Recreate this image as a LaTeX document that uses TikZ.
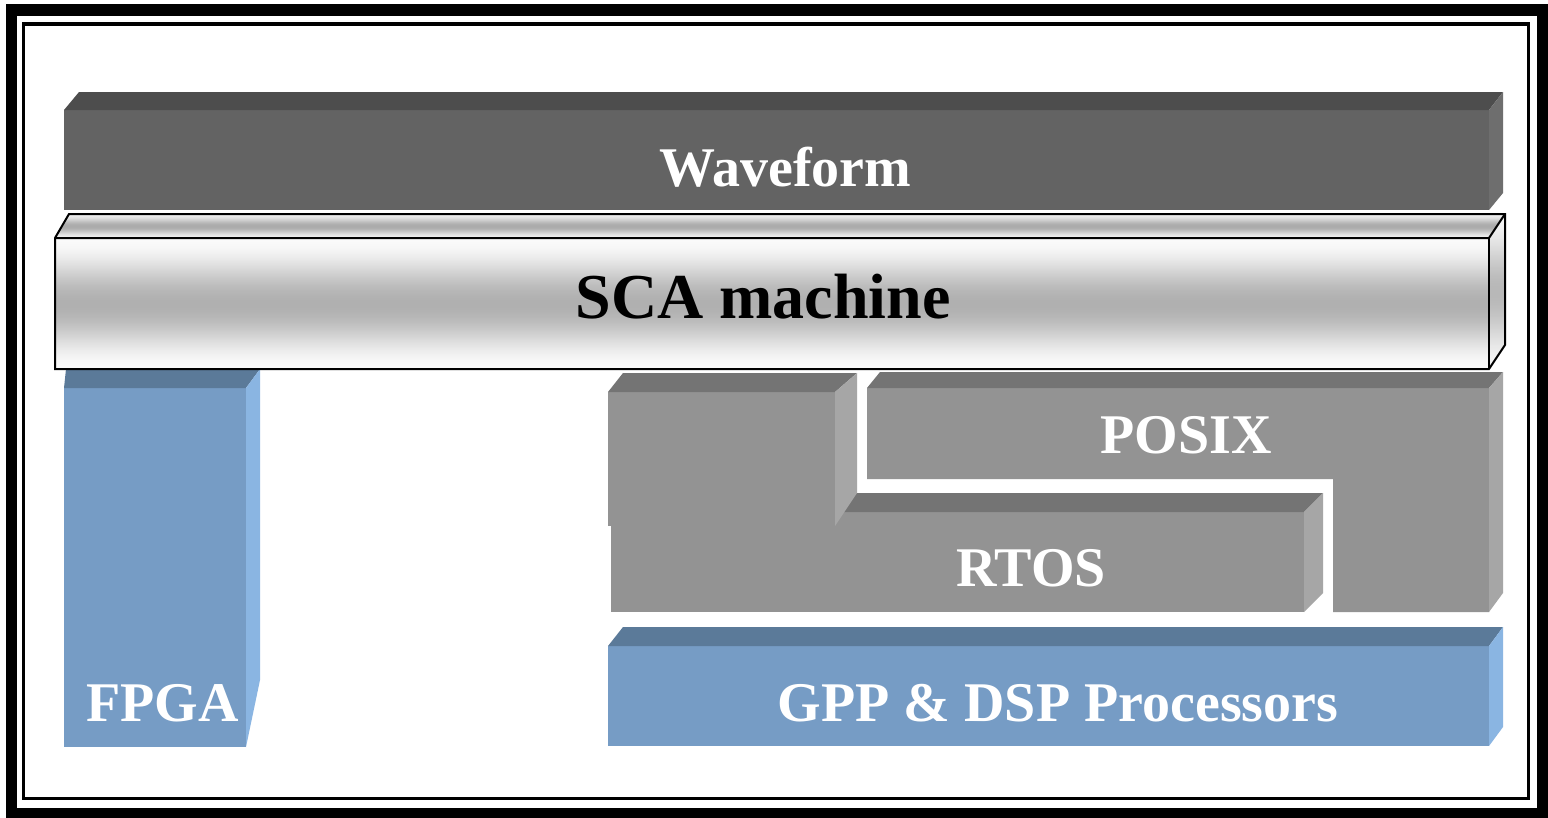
\documentclass[tikz,border=0pt]{standalone}
\usepackage{fontspec}
\setmainfont{Liberation Serif}
\definecolor{wavefront}{HTML}{636363}
\definecolor{wavetop}{HTML}{4D4D4D}
\definecolor{waveside}{HTML}{6E6E6E}
\definecolor{bluefront}{HTML}{769CC5}
\definecolor{bluetop}{HTML}{5B7A99}
\definecolor{blueside}{HTML}{8AB5E2}
\definecolor{grayfront}{HTML}{939393}
\definecolor{graytop}{HTML}{747474}
\definecolor{grayside}{HTML}{A6A6A6}
\tikzset{
  lbl/.style={inner sep=0pt, anchor=base, font=\bfseries\fontsize{56}{60}\selectfont, text=white},
  scalbl/.style={inner sep=0pt, anchor=base, font=\bfseries\fontsize{64}{70}\selectfont, text=black},
  outline/.style={line width=2pt, line join=miter},
}
% vertical gradient strips: #1 y0, #2 y1, #3 x0, #4 x1, #5 light %, #6 dark %
\newcommand\vgradstrips[6]{%
  \foreach \yy in {#1,...,#2} {%
    \pgfmathsetmacro\tt{(\yy-#1)/(#2-#1)}%
    \pgfmathsetmacro\gg{#5+(#6-#5)*(1-cos(360*\tt))/2}%
    \fill[black!\gg] (#3,\yy) rectangle (#4,\yy+1.3);
  }%
}
\begin{document}
\begin{tikzpicture}[x=1pt,y=-1pt]
\useasboundingbox (0,0) rectangle (1548,817);
\fill[white] (0,0) rectangle (1548,817);
% frames
\draw[line width=11.5pt] (11.5,10) rectangle (1542.5,813.5);
\draw[line width=3.5pt] (23.5,24) rectangle (1528.5,798.5);
% Waveform
\fill[wavefront] (64,110) rectangle (1489,210);
\fill[wavetop] (64,110) -- (79,92) -- (1503,92) -- (1489,110) -- cycle;
\fill[waveside] (1489,110) -- (1503,92) -- (1503,193) -- (1489,210) -- cycle;
% FPGA
\fill[bluefront] (64,388) rectangle (246,747);
\fill[bluetop] (64,388) -- (66,369) -- (260,369) -- (246,388) -- cycle;
\fill[blueside] (246,388) -- (260,369) -- (260,680) -- (246,747) -- cycle;
% SCA machine
\begin{scope}
  \clip (55,238) -- (69,214) -- (1505,214) -- (1489,238) -- cycle;
  \vgradstrips{214}{238}{50}{1510}{6}{33}
\end{scope}
\begin{scope}
  \clip (1489,238) -- (1505,214) -- (1505,345) -- (1489,369) -- cycle;
  \vgradstrips{214}{369}{1485}{1510}{4}{28}
\end{scope}
\begin{scope}
  \clip (55,238) rectangle (1489,369);
  \vgradstrips{238}{369}{55}{1489}{2}{31}
\end{scope}
\draw[outline] (55,238) -- (69,214) -- (1505,214) -- (1505,345) -- (1489,369) -- (55,369) -- cycle;
\draw[outline] (55,238) -- (1489,238) -- (1505,214);
\draw[outline] (1489,238) -- (1489,369);
% RTOS
\fill[grayfront] (611,512) rectangle (1304,612);
\fill[graytop] (611,512) -- (630,493) -- (1323,493) -- (1304,512) -- cycle;
\fill[grayside] (1304,512) -- (1323,493) -- (1323,593) -- (1304,612) -- cycle;
% left gray box
\fill[grayfront] (608,392) rectangle (835,526);
\fill[graytop] (608,392) -- (623,373) -- (857,373) -- (835,392) -- cycle;
\fill[grayside] (835,392) -- (857,373) -- (857,493) -- (835,526) -- cycle;
% POSIX
\fill[grayfront] (867,388) -- (1489,388) -- (1489,612) -- (1333,612) -- (1333,479) -- (867,479) -- cycle;
\fill[graytop] (867,388) -- (880,372) -- (1503,372) -- (1489,388) -- cycle;
\fill[grayside] (1489,388) -- (1503,372) -- (1503,593) -- (1489,612) -- cycle;
% GPP & DSP
\fill[bluefront] (608,646) rectangle (1489,746);
\fill[bluetop] (608,646) -- (623,627) -- (1503,627) -- (1489,646) -- cycle;
\fill[blueside] (1489,646) -- (1503,627) -- (1503,727) -- (1489,746) -- cycle;
% labels
\node[lbl] (wave) at (785.5,186) {Waveform};
\node[scalbl] (sca) at (763,318) {SCA machine};
\node[lbl] (posix) at (1186,453) {POSIX};
\node[lbl] (rtos) at (1031,586) {RTOS};
\node[lbl] (fpga) at (162.5,721) {FPGA};
\node[lbl] (gpp) at (1058,721) {GPP \& DSP Processors};
\end{tikzpicture}
\end{document}
